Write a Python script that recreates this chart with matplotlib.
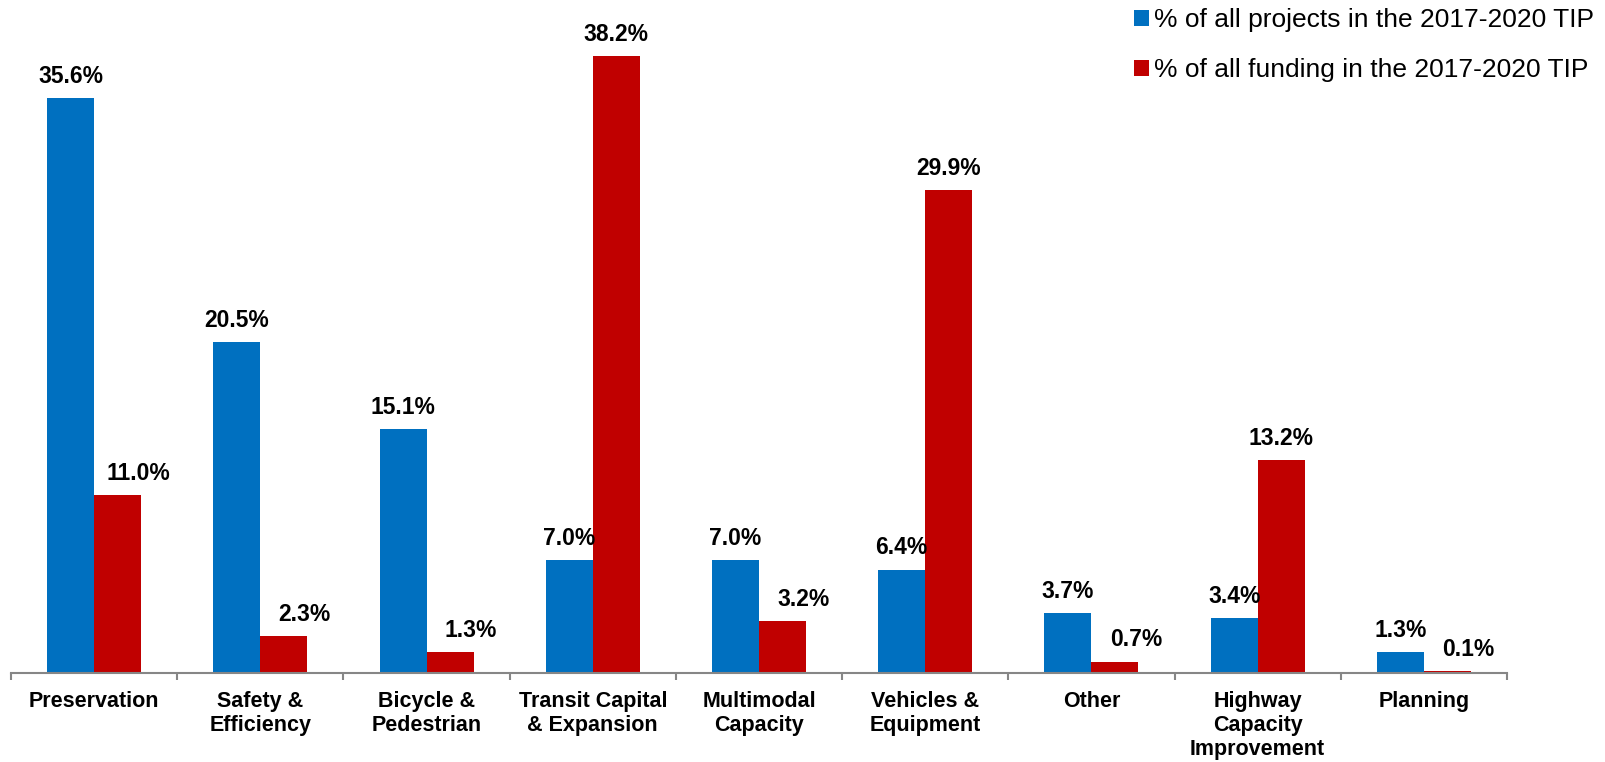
import matplotlib.pyplot as plt
import numpy as np

categories = ['Preservation', 'Safety &\nEfficiency', 'Bicycle &\nPedestrian',
              'Transit Capital\n& Expansion', 'Multimodal\nCapacity',
              'Vehicles &\nEquipment', 'Other', 'Highway\nCapacity\nImprovement',
              'Planning']
projects = [35.6, 20.5, 15.1, 7.0, 7.0, 6.4, 3.7, 3.4, 1.3]
funding = [11.0, 2.3, 1.3, 38.2, 3.2, 29.9, 0.7, 13.2, 0.1]

plt.rcParams['font.family'] = ['Liberation Sans', 'DejaVu Sans']

blue = '#0070C0'
red = '#C00000'
axcol = '#868686'

fig = plt.figure(figsize=(16.06, 7.62), dpi=100)
ax = fig.add_axes([11 / 1606, 89 / 762, 1496 / 1606, 646 / 762])

x = np.arange(len(categories))
w = 0.283
b1 = ax.bar(x - w / 2, projects, w, color=blue,
            label='% of all projects in the 2017-2020 TIP')
b2 = ax.bar(x + w / 2, funding, w, color=red,
            label='% of all funding in the 2017-2020 TIP')

for rect, v in zip(b1, projects):
    ax.annotate(f'{v:.1f}%', (rect.get_x() + rect.get_width() / 2, v),
                xytext=(0, 11), textcoords='offset points', ha='center',
                va='baseline', fontsize=16.5, fontweight='bold')
# small red labels sit to the right so they don't crowd the taller blue bar
for rect, v, p in zip(b2, funding, projects):
    dx = 15 if v < p else 0
    ax.annotate(f'{v:.1f}%', (rect.get_x() + rect.get_width() / 2, v),
                xytext=(dx, 11), textcoords='offset points', ha='center',
                va='baseline', fontsize=16.5, fontweight='bold')

ax.set_xlim(-0.5, len(categories) - 0.5)
ax.set_ylim(0, 40)
ax.set_yticks([])
for s in ['top', 'right', 'left']:
    ax.spines[s].set_visible(False)
ax.spines['bottom'].set_color(axcol)
ax.spines['bottom'].set_linewidth(1.5)

ax.set_xticks(x)
ax.set_xticklabels(categories, fontsize=15.5, fontweight='bold', linespacing=1.2)
ax.tick_params(axis='x', which='major', length=0, pad=13)
ax.set_xticks(np.arange(-0.5, len(categories)), minor=True)
ax.tick_params(axis='x', which='minor', length=5, width=1.5, color=axcol)

ax.legend(loc='upper left', bbox_to_anchor=(1134 / 1606, 1 - 8 / 762),
          bbox_transform=fig.transFigure, frameon=False,
          fontsize=19, handlelength=0.55, handleheight=0.55, handletextpad=0.2,
          labelspacing=1.0, borderaxespad=0, borderpad=0)

fig.savefig('out.png', dpi=100)
